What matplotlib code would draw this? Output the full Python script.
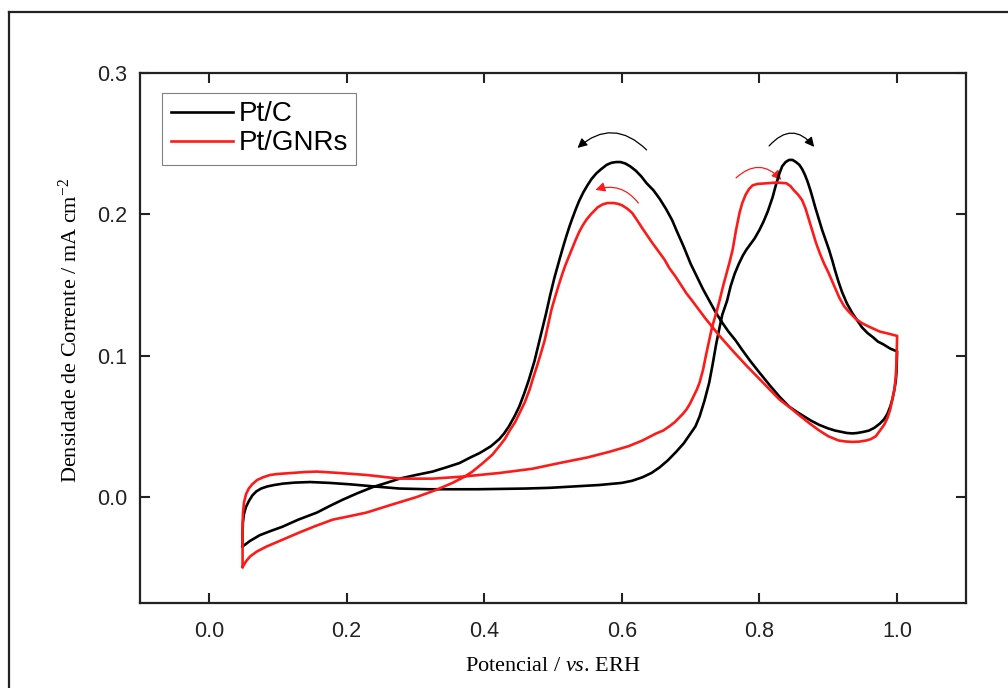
import matplotlib
matplotlib.use("Agg")
import matplotlib.pyplot as plt
from matplotlib.patches import FancyArrowPatch
from matplotlib.lines import Line2D

# Pt/C, positive-going scan (0.05 -> 1.0 V)
ptc_fwd_x = [0.049, 0.049, 0.0495, 0.051, 0.054, 0.058, 0.063, 0.069, 0.076, 0.085,
             0.095, 0.108, 0.125, 0.147, 0.175, 0.205, 0.24, 0.277, 0.32, 0.35,
             0.39, 0.42, 0.46, 0.495, 0.53, 0.567, 0.585, 0.6, 0.615, 0.63,
             0.643, 0.655, 0.667, 0.679, 0.69, 0.70, 0.707, 0.713, 0.72, 0.727,
             0.732, 0.737, 0.742, 0.746, 0.753, 0.758, 0.764, 0.77, 0.776, 0.781,
             0.787, 0.793, 0.80, 0.806, 0.812, 0.819, 0.824, 0.829, 0.833, 0.838,
             0.843, 0.848, 0.853, 0.858, 0.862, 0.866, 0.870, 0.874, 0.877, 0.881,
             0.886, 0.891, 0.896, 0.901, 0.906, 0.91, 0.915, 0.92, 0.927, 0.935,
             0.942, 0.949, 0.957, 0.965, 0.972, 0.98, 0.99, 1.0]
ptc_fwd_y = [-0.035, -0.025, -0.018, -0.012, -0.007, -0.003, 0.001, 0.004, 0.006, 0.0075,
             0.0085, 0.0095, 0.0102, 0.0106, 0.010, 0.009, 0.0075, 0.006, 0.0055, 0.0055,
             0.0055, 0.0057, 0.006, 0.0065, 0.0075, 0.0085, 0.0093, 0.010, 0.0115, 0.014,
             0.017, 0.021, 0.026, 0.032, 0.038, 0.045, 0.050, 0.057, 0.068, 0.081,
             0.094, 0.108, 0.120, 0.129, 0.139, 0.149, 0.158, 0.165, 0.171, 0.175,
             0.179, 0.183, 0.189, 0.195, 0.202, 0.212, 0.221, 0.229, 0.234, 0.237,
             0.2385, 0.2385, 0.237, 0.235, 0.232, 0.228, 0.223, 0.217, 0.212, 0.205,
             0.197, 0.189, 0.182, 0.175, 0.167, 0.160, 0.152, 0.145, 0.137, 0.130,
             0.125, 0.120, 0.116, 0.113, 0.110, 0.108, 0.105, 0.103]
# Pt/C, negative-going scan (1.0 -> 0.05 V)
ptc_rev_x = [1.0, 0.9995, 0.999, 0.998, 0.996, 0.993, 0.99, 0.986, 0.981, 0.975,
             0.967, 0.959, 0.95, 0.942, 0.935, 0.927, 0.92, 0.91, 0.9, 0.887,
             0.875, 0.865, 0.855, 0.843, 0.829, 0.815, 0.80, 0.787, 0.775, 0.765,
             0.755, 0.745, 0.736, 0.727, 0.718, 0.71, 0.70, 0.69, 0.68, 0.673,
             0.664, 0.655, 0.646, 0.636, 0.628, 0.62, 0.612, 0.605, 0.598, 0.592,
             0.585, 0.578, 0.57, 0.563, 0.556, 0.55, 0.544, 0.538, 0.533, 0.528,
             0.524, 0.52, 0.515, 0.51, 0.502, 0.496, 0.49, 0.485, 0.48, 0.473,
             0.465, 0.458, 0.451, 0.444, 0.436, 0.429, 0.422, 0.41, 0.40, 0.393,
             0.38, 0.364, 0.345, 0.325, 0.30, 0.277, 0.258, 0.238, 0.215, 0.194,
             0.175, 0.157, 0.13, 0.107, 0.09, 0.074, 0.06, 0.049]
ptc_rev_y = [0.103, 0.095, 0.088, 0.082, 0.076, 0.069, 0.064, 0.059, 0.055, 0.052,
             0.049, 0.047, 0.046, 0.0453, 0.045, 0.0453, 0.046, 0.047, 0.0485, 0.051,
             0.054, 0.057, 0.060, 0.064, 0.071, 0.079, 0.088, 0.096, 0.104, 0.111,
             0.117, 0.124, 0.131, 0.139, 0.147, 0.155, 0.165, 0.177, 0.188, 0.196,
             0.204, 0.211, 0.217, 0.222, 0.227, 0.231, 0.234, 0.236, 0.237, 0.237,
             0.2365, 0.235, 0.232, 0.229, 0.225, 0.2205, 0.2155, 0.2095, 0.2035, 0.197,
             0.1915, 0.1855, 0.1775, 0.169, 0.155, 0.143, 0.130, 0.120, 0.110, 0.096,
             0.083, 0.073, 0.064, 0.057, 0.050, 0.045, 0.041, 0.036, 0.033, 0.031,
             0.028, 0.024, 0.021, 0.018, 0.0155, 0.013, 0.010, 0.007, 0.0025, -0.002,
             -0.0065, -0.011, -0.016, -0.021, -0.024, -0.027, -0.031, -0.035]

# Pt/GNRs, positive-going scan
gnr_fwd_x = [0.049, 0.049, 0.049, 0.0495, 0.051, 0.054, 0.058, 0.063, 0.07, 0.079,
             0.089, 0.10, 0.12, 0.14, 0.157, 0.19, 0.229, 0.277, 0.325, 0.37,
             0.422, 0.47, 0.509, 0.55, 0.582, 0.61, 0.63, 0.65, 0.66, 0.669,
             0.677, 0.683, 0.689, 0.694, 0.699, 0.704, 0.709, 0.713, 0.718, 0.723,
             0.727, 0.731, 0.737, 0.742, 0.747, 0.752, 0.757, 0.761, 0.766, 0.771,
             0.775, 0.78, 0.785, 0.79, 0.797, 0.81, 0.825, 0.834, 0.839, 0.845,
             0.85, 0.856, 0.862, 0.867, 0.872, 0.877, 0.882, 0.888, 0.894, 0.90,
             0.908, 0.916, 0.923, 0.93, 0.94, 0.949, 0.957, 0.966, 0.975, 0.984,
             0.992, 1.0]
gnr_fwd_y = [-0.0495, -0.035, -0.022, -0.012, -0.004, 0.002, 0.006, 0.009, 0.012, 0.014,
             0.0156, 0.0163, 0.017, 0.0177, 0.018, 0.017, 0.0156, 0.013, 0.013, 0.0145,
             0.017, 0.020, 0.024, 0.028, 0.032, 0.036, 0.040, 0.045, 0.047, 0.050,
             0.053, 0.056, 0.059, 0.062, 0.066, 0.071, 0.076, 0.081, 0.090, 0.102,
             0.111, 0.120, 0.130, 0.139, 0.149, 0.158, 0.167, 0.175, 0.189, 0.201,
             0.208, 0.214, 0.218, 0.2205, 0.2215, 0.222, 0.2225, 0.2222, 0.222, 0.220,
             0.217, 0.214, 0.210, 0.204, 0.196, 0.188, 0.180, 0.172, 0.165, 0.159,
             0.150, 0.141, 0.135, 0.131, 0.126, 0.123, 0.121, 0.119, 0.117, 0.116,
             0.115, 0.114]
# Pt/GNRs, negative-going scan
gnr_rev_x = [1.0, 0.9995, 0.999, 0.998, 0.996, 0.993, 0.99, 0.986, 0.981, 0.975,
             0.969, 0.962, 0.955, 0.945, 0.935, 0.925, 0.915, 0.90, 0.887, 0.873,
             0.86, 0.845, 0.829, 0.805, 0.781, 0.762, 0.742, 0.722, 0.702, 0.694,
             0.686, 0.678, 0.669, 0.662, 0.656, 0.65, 0.644, 0.637, 0.63, 0.622,
             0.615, 0.608, 0.60, 0.594, 0.588, 0.579, 0.572, 0.565, 0.56, 0.555,
             0.549, 0.543, 0.538, 0.533, 0.528, 0.523, 0.518, 0.514, 0.509,
             0.504, 0.498, 0.493, 0.488, 0.482, 0.477, 0.471, 0.466, 0.459, 0.452,
             0.445, 0.437, 0.43, 0.422, 0.412, 0.398, 0.383, 0.37, 0.354, 0.33,
             0.302, 0.265, 0.229, 0.205, 0.18, 0.155, 0.132, 0.108, 0.084, 0.07,
             0.06, 0.054, 0.049]
gnr_rev_y = [0.114, 0.105, 0.095, 0.085, 0.076, 0.069, 0.062, 0.056, 0.051, 0.047,
             0.043, 0.041, 0.040, 0.0392, 0.039, 0.0393, 0.040, 0.043, 0.047, 0.052,
             0.057, 0.063, 0.069, 0.081, 0.093, 0.103, 0.114, 0.126, 0.139, 0.144,
             0.150, 0.156, 0.162, 0.168, 0.172, 0.176, 0.180, 0.185, 0.190, 0.196,
             0.201, 0.204, 0.2065, 0.2075, 0.208, 0.208, 0.207, 0.205, 0.2025, 0.200,
             0.1965, 0.192, 0.1875, 0.182, 0.176, 0.170, 0.164, 0.1585, 0.151,
             0.143, 0.133, 0.122, 0.111, 0.101, 0.093, 0.084, 0.076, 0.067, 0.060,
             0.053, 0.047, 0.041, 0.036, 0.030, 0.024, 0.018, 0.014, 0.010, 0.005,
             0.0, -0.0055, -0.011, -0.0135, -0.016, -0.0205, -0.025, -0.030, -0.035, -0.0385,
             -0.042, -0.0455, -0.0495]

labels = ["Pt/C", "Pt/GNRs"]
colors = ["black", "#ff1a1a"]

# scan-direction arrows: (start, end, colour, curvature)
arrows = [
    ((0.636, 0.2456), (0.5356, 0.247), "black", 0.46),
    ((0.814, 0.2484), (0.8795, 0.2477), "black", -0.58),
    ((0.624, 0.208), (0.5617, 0.2173), "#ff1a1a", 0.35),
    ((0.766, 0.2258), (0.8316, 0.2243), "#ff1a1a", -0.5),
]

plt.rcParams["mathtext.fontset"] = "custom"
plt.rcParams["mathtext.rm"] = "Liberation Serif"
plt.rcParams["mathtext.it"] = "Liberation Serif:italic"

fig = plt.figure(figsize=(10.08, 6.88), dpi=100)
ax = fig.add_axes([0.1389, 0.1235, 0.8194, 0.7704])

ax.plot(ptc_fwd_x + ptc_rev_x, ptc_fwd_y + ptc_rev_y, color=colors[0], lw=1.9,
        label=labels[0], solid_joinstyle="round")
ax.plot(gnr_fwd_x + gnr_rev_x, gnr_fwd_y + gnr_rev_y, color=colors[1], lw=1.9,
        label=labels[1], solid_joinstyle="round")

for start, end, col, rad in arrows:
    ax.add_patch(FancyArrowPatch(start, end, connectionstyle=f"arc3,rad={rad}",
                                 arrowstyle="-|>", mutation_scale=14, lw=0.9,
                                 color=col, shrinkA=0, shrinkB=0))

ax.set_xlim(-0.1, 1.1)
ax.set_ylim(-0.075, 0.3)
ax.set_xticks([0.0, 0.2, 0.4, 0.6, 0.8, 1.0])
ax.set_yticks([0.0, 0.1, 0.2, 0.3])
ax.tick_params(direction="in", length=7, width=1.5, top=True, right=True,
               labelsize=15.5, colors="#222222")
ax.tick_params(axis="x", pad=13)
ax.tick_params(axis="y", pad=9)
for lab in ax.get_xticklabels() + ax.get_yticklabels():
    lab.set_fontfamily("Liberation Sans")
for sp in ax.spines.values():
    sp.set_linewidth(1.6)
    sp.set_color("#222222")

ax.set_xlabel(r"Potencial / $\mathit{vs}$. ERH", fontsize=16, family="Liberation Serif")
ax.set_ylabel(r"Densidade de Corrente / mA cm$^{\mathregular{-2}}$", fontsize=16,
              family="Liberation Serif")
ax.xaxis.set_label_coords(0.5, -0.102)
ax.yaxis.set_label_coords(-0.07, 0.515)

leg = ax.legend(loc="upper left", bbox_to_anchor=(0.027, 0.962), borderaxespad=0,
                prop={"family": "Liberation Sans", "size": 20}, fancybox=False,
                framealpha=1, edgecolor="#808080", labelspacing=0.1,
                handlelength=2.25, handletextpad=0.2, borderpad=0.3)
leg.get_frame().set_linewidth(0.8)

# outer frame of the original figure (only left and top edges visible)
fig.add_artist(Line2D([8.5 / 1008, 8.5 / 1008], [0, 1 - 12 / 688],
                      transform=fig.transFigure, color="#222222", lw=1.6))
fig.add_artist(Line2D([8.5 / 1008, 1], [1 - 12 / 688, 1 - 12 / 688],
                      transform=fig.transFigure, color="#222222", lw=1.6))

fig.savefig("out.png", dpi=100)
